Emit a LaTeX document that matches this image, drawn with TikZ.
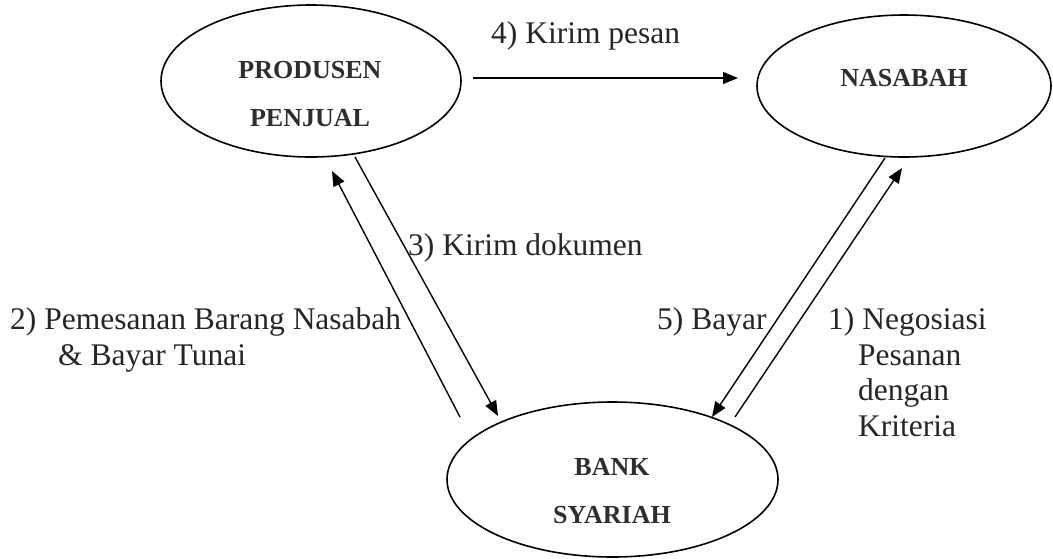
\documentclass[tikz,border=0pt]{standalone}
\usepackage{fontspec}
\setmainfont{Liberation Serif}
\usetikzlibrary{shapes.geometric,arrows.meta}
\begin{document}
\begin{tikzpicture}[x=1pt,y=-1pt,
  party/.style={draw=black, line width=1.6pt, ellipse, inner sep=0pt},
  partyname/.style={anchor=base, inner sep=0pt, text=black!82,
    font=\fontsize{26}{30}\selectfont\bfseries},
  flowlabel/.style={anchor=base west, inner sep=0pt, text=black!85,
    font=\fontsize{31.5}{36}\selectfont},
  flow/.style={line width=1.4pt, -{Triangle[length=15pt,width=12pt]}}]
\useasboundingbox (0,0) rectangle (1053,558);

% the three parties
\node[party, minimum width=300pt, minimum height=152pt] (prod) at (311,81) {};
\node[party, minimum width=294pt, minimum height=142pt] (nasabah) at (904,86) {};
\node[party, minimum width=331pt, minimum height=155pt] (bank) at (612.5,479.5) {};

\node[partyname] (prodA) at (310,78) {PRODUSEN};
\node[partyname] (prodB) at (310,126) {PENJUAL};
\node[partyname] (nasA) at (904,86) {NASABAH};
\node[partyname] (bankA) at (612,475) {BANK};
\node[partyname] (bankB) at (612,523) {SYARIAH};

% arrow end points
\coordinate (a4s) at (473,78);  \coordinate (a4e) at (738,78);
\coordinate (a3s) at (355,157); \coordinate (a3e) at (498,416);
\coordinate (a2s) at (460,417); \coordinate (a2e) at (332,171);
\coordinate (a5s) at (885,158); \coordinate (a5e) at (712,417);
\coordinate (a1s) at (735,417); \coordinate (a1e) at (902,168);

\draw[flow] (a4s) -- (a4e);
\draw[flow] (a3s) -- (a3e);
\draw[flow] (a2s) -- (a2e);
\draw[flow] (a5s) -- (a5e);
\draw[flow] (a1s) -- (a1e);

% step labels
\node[flowlabel] (l4) at (491,43) {4) Kirim pesan};
\node[flowlabel] (l3) at (408,255) {3) Kirim dokumen};
\node[flowlabel] (l2a) at (10,329) {2) Pemesanan Barang Nasabah};
\node[flowlabel] (l2b) at (58,365) {\& Bayar Tunai};
\node[flowlabel] (l5) at (657,329) {5) Bayar};
\node[flowlabel] (l1a) at (828,329) {1) Negosiasi};
\node[flowlabel] (l1b) at (858,365) {Pesanan};
\node[flowlabel] (l1c) at (858,400) {dengan};
\node[flowlabel] (l1d) at (858,436) {Kriteria};
\end{tikzpicture}
\end{document}
